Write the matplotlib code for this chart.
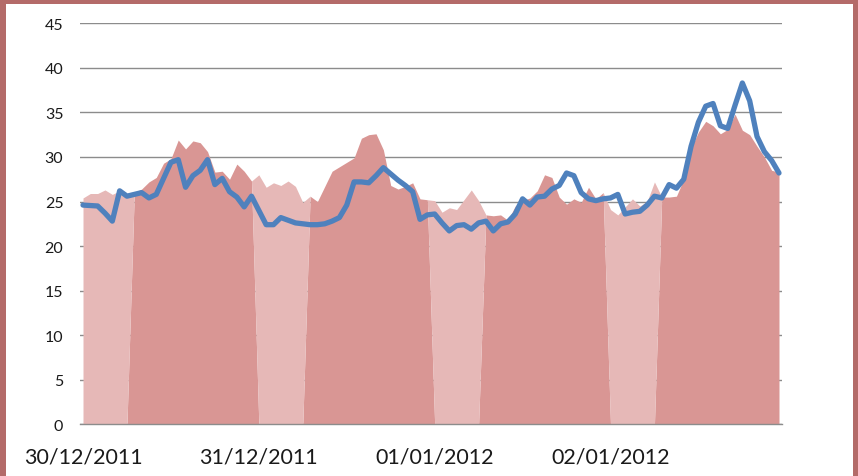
import numpy as np
import matplotlib
matplotlib.use("Agg")
import matplotlib.pyplot as plt
from matplotlib.patches import Rectangle

# hourly readings, 30/12/2011 00:00 -> 02/01/2012 23:00
measured = [
    25.4, 25.9, 25.9, 26.3, 25.8, 26.2, 25.9,
    26.0, 26.4, 27.2, 27.7, 29.3, 29.8, 31.9, 30.9, 31.8, 31.6, 30.6, 28.3, 28.4, 27.5, 29.2, 28.4, 27.3,
    28.0, 26.6, 27.1, 26.8, 27.3, 26.7, 24.9,
    25.6, 25.0, 26.7, 28.4, 28.9, 29.4, 29.9, 32.1, 32.5, 32.6, 30.8, 26.8, 26.4, 26.7, 27.1, 25.3, 25.2,
    25.1, 23.8, 24.3, 24.1, 25.2, 26.3, 25.1,
    23.5, 23.4, 23.5, 22.9, 24.5, 25.1, 25.4, 26.2, 28.0, 27.7, 25.5, 24.7, 25.3, 24.9, 26.6, 25.3, 26.0,
    24.1, 23.5, 24.4, 25.3, 24.5, 25.0, 27.2,
    25.5, 25.5, 25.6, 27.5, 31.0, 32.8, 34.0, 33.5, 32.6, 33.1, 34.8, 33.0, 32.5, 31.2, 30.0, 28.5, 28.3,
]

predicted = [
    24.6, 24.55, 24.5, 23.7, 22.8, 26.2, 25.6,
    25.8, 26.0, 25.4, 25.8, 27.6, 29.4, 29.7, 26.6, 27.9, 28.5, 29.7, 26.9, 27.6, 26.1, 25.5, 24.4, 25.6,
    24.0, 22.4, 22.4, 23.2, 22.9, 22.6, 22.5,
    22.4, 22.4, 22.5, 22.8, 23.2, 24.6, 27.2, 27.2, 27.1, 27.9, 28.8, 28.1, 27.4, 26.8, 26.1, 23.0, 23.5,
    23.6, 22.6, 21.7, 22.3, 22.4, 21.9, 22.6,
    22.8, 21.7, 22.5, 22.7, 23.6, 25.3, 24.6, 25.5, 25.6, 26.4, 26.8, 28.2, 27.9, 26.0, 25.3, 25.1, 25.3,
    25.4, 25.8, 23.6, 23.8, 23.9, 24.6, 25.6,
    25.4, 26.9, 26.5, 27.5, 31.2, 33.9, 35.7, 36.0, 33.5, 33.2, 35.8, 38.3, 36.3, 32.3, 30.6, 29.6, 28.2,
]

day_labels = ["30/12/2011", "31/12/2011", "01/01/2012", "02/01/2012"]
night_end_hour = 7  # hours 0..6 are drawn in the lighter shade

measured = np.array(measured)
predicted = np.array(predicted)
x = np.arange(len(measured))
hour = x % 24
night = np.where(hour < night_end_hour, measured, 0)
day = np.where(hour >= night_end_hour, measured, 0)

W, H = 858, 477
fig = plt.figure(figsize=(W / 100, H / 100), dpi=100)
fig.patch.set_facecolor("#B46B69")
fig.add_artist(Rectangle((6 / W, 0), (853 - 6) / W, (H - 5) / H,
                         transform=fig.transFigure, facecolor="white",
                         edgecolor="none", zorder=0))

ax = fig.add_axes([80 / W, 1 - 425.3 / H, (782 - 80) / W, (425.3 - 24.3) / H])
ax.set_facecolor("white")

# stacked areas: day shade at the bottom, night shade on top of it
ax.fill_between(x, 0, day, color="#D99694", linewidth=0, zorder=2)
ax.fill_between(x, day, day + night, color="#E6B8B7", linewidth=0, zorder=2)
ax.plot(x, predicted, color="#4F81BD", linewidth=3.8,
        solid_joinstyle="round", solid_capstyle="round", zorder=4)

ax.set_xlim(-0.41, len(x) - 1 + 0.41)
ax.set_ylim(0, 45)
ax.set_yticks(np.arange(0, 46, 5))
ax.set_xticks(np.arange(0, len(x), 24))
ax.set_xticklabels(day_labels)

ax.grid(axis="y", color="#8C8C8C", linewidth=1.0, zorder=1)
ax.set_axisbelow(True)
for s in ["top", "right", "left"]:
    ax.spines[s].set_visible(False)
ax.spines["bottom"].set_color("#8C8C8C")
ax.spines["bottom"].set_linewidth(1.0)
ax.spines["bottom"].set_zorder(5)

ax.tick_params(axis="y", length=0, pad=12, labelsize=11.5, labelcolor="#1a1a1a")
ax.tick_params(axis="x", length=0, pad=16, labelsize=15.5, labelcolor="#1a1a1a")
for lab in ax.get_xticklabels() + ax.get_yticklabels():
    lab.set_fontfamily("Lato")

fig.savefig("out.png", dpi=100, facecolor=fig.get_facecolor())
